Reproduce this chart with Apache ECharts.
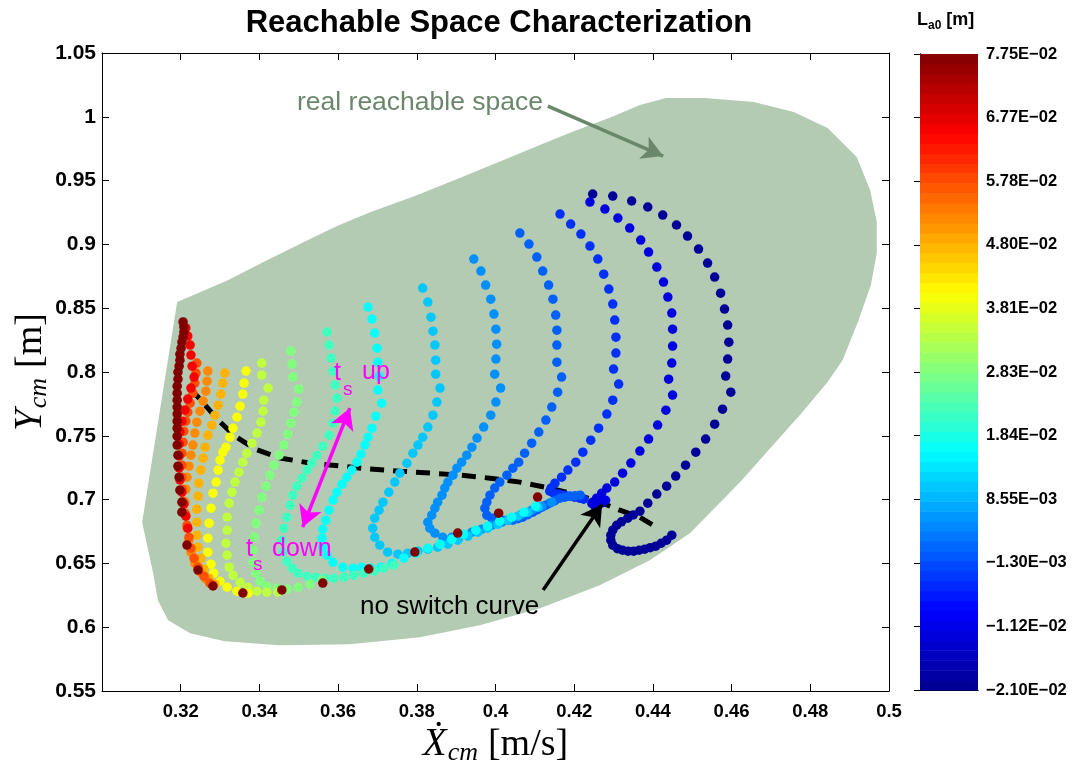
<!DOCTYPE html>
<html>
<head>
<meta charset="utf-8">
<title>Reachable Space Characterization</title>
<script src="https://cdn.jsdelivr.net/npm/echarts/dist/echarts.min.js"></script>
<style>
  html, body { margin: 0; padding: 0; background: #fff; }
  #chart { width: 1074px; height: 772px; }
</style>
</head>
<body>
<div id="chart"></div>
<script>
// ---- data: [Xdot_cm, Y_cm] per point ----
// one list per L_a0 value (left = long leg, right = short leg)
const curveT1a = [[0.3206,0.8392],[0.3208,0.8353],[0.3208,0.8313],[0.3206,0.8274],[0.3203,0.8235],[0.3201,0.8187],[0.3198,0.8140],[0.3198,0.8093],[0.3196,0.8046],[0.3193,0.7999],[0.3193,0.7944],[0.3191,0.7889],[0.3191,0.7834],[0.3191,0.7779],[0.3191,0.7725],[0.3191,0.7670],[0.3191,0.7615],[0.3191,0.7560],[0.3191,0.7497],[0.3191,0.7427],[0.3193,0.7348],[0.3193,0.7262],[0.3196,0.7176],[0.3198,0.7074],[0.3203,0.6980],[0.3203,0.6901]];
const curveT1b = [[0.3213,0.8345],[0.3218,0.8282],[0.3224,0.8211],[0.3226,0.8133],[0.3229,0.8046],[0.3234,0.7960],[0.3226,0.7874],[0.3218,0.7788],[0.3211,0.7702],[0.3203,0.7615],[0.3198,0.7529],[0.3196,0.7436],[0.3196,0.7342],[0.3196,0.7248],[0.3198,0.7154],[0.3203,0.7058],[0.3208,0.6964],[0.3213,0.6870],[0.3218,0.6776]];
const curveT2 = [[0.3241,0.8070],[0.3239,0.7992],[0.3236,0.7913],[0.3231,0.7834],[0.3224,0.7756],[0.3218,0.7685],[0.3213,0.7615],[0.3208,0.7536],[0.3206,0.7450],[0.3203,0.7364],[0.3203,0.7270],[0.3203,0.7176],[0.3203,0.7082],[0.3206,0.6988],[0.3211,0.6894],[0.3216,0.6799],[0.3221,0.6705],[0.3226,0.6619],[0.3234,0.6541],[0.3244,0.6470],[0.3259,0.6400],[0.3274,0.6345]];
const curveT3 = [[0.3269,0.8007],[0.3267,0.7928],[0.3264,0.7850],[0.3257,0.7772],[0.3249,0.7693],[0.3241,0.7607],[0.3236,0.7521],[0.3231,0.7427],[0.3226,0.7348],[0.3221,0.7262],[0.3216,0.7176],[0.3213,0.7082],[0.3211,0.6980],[0.3213,0.6878],[0.3216,0.6776],[0.3221,0.6682],[0.3226,0.6588],[0.3236,0.6503],[0.3249,0.6433],[0.3264,0.6378],[0.3282,0.6331]];
const curveT4 = [[0.3312,0.7992],[0.3307,0.7913],[0.3302,0.7827],[0.3295,0.7740],[0.3287,0.7662],[0.3279,0.7583],[0.3269,0.7505],[0.3262,0.7411],[0.3257,0.7325],[0.3251,0.7231],[0.3246,0.7129],[0.3244,0.7027],[0.3241,0.6925],[0.3241,0.6823],[0.3241,0.6721],[0.3244,0.6627],[0.3251,0.6541],[0.3259,0.6455],[0.3272,0.6384],[0.3287,0.6337]];
const curveT5 = [[0.3366,0.8007],[0.3361,0.7913],[0.3358,0.7827],[0.3351,0.7732],[0.3343,0.7646],[0.3333,0.7560],[0.3325,0.7489],[0.3315,0.7411],[0.3307,0.7372],[0.3300,0.7309],[0.3295,0.7231],[0.3290,0.7137],[0.3282,0.7050],[0.3277,0.6933],[0.3272,0.6815],[0.3269,0.6698],[0.3269,0.6588],[0.3277,0.6494],[0.3284,0.6423],[0.3300,0.6360],[0.3318,0.6313],[0.3343,0.6282],[0.3371,0.6266]];
const curveT6 = [[0.3406,0.8070],[0.3406,0.7976],[0.3422,0.7874],[0.3411,0.7779],[0.3409,0.7693],[0.3404,0.7607],[0.3394,0.7521],[0.3381,0.7442],[0.3368,0.7364],[0.3358,0.7293],[0.3348,0.7215],[0.3338,0.7137],[0.3330,0.7058],[0.3323,0.6972],[0.3318,0.6862],[0.3318,0.6760],[0.3315,0.6658],[0.3318,0.6564],[0.3323,0.6470],[0.3333,0.6407],[0.3351,0.6352],[0.3371,0.6313],[0.3394,0.6282],[0.3419,0.6274],[0.3447,0.6274]];
const curveT7 = [[0.3480,0.8164],[0.3483,0.8062],[0.3485,0.7960],[0.3500,0.7866],[0.3495,0.7764],[0.3488,0.7685],[0.3480,0.7599],[0.3472,0.7513],[0.3462,0.7427],[0.3450,0.7348],[0.3437,0.7270],[0.3427,0.7191],[0.3417,0.7105],[0.3406,0.7019],[0.3399,0.6917],[0.3391,0.6815],[0.3386,0.6705],[0.3384,0.6603],[0.3384,0.6509],[0.3391,0.6423],[0.3402,0.6360],[0.3419,0.6321],[0.3445,0.6306],[0.3470,0.6298],[0.3498,0.6313],[0.3528,0.6337],[0.3559,0.6368]];
const curveT8 = [[0.3572,0.8313],[0.3577,0.8211],[0.3582,0.8109],[0.3587,0.8007],[0.3592,0.7898],[0.3597,0.7796],[0.3592,0.7694],[0.3587,0.7599],[0.3577,0.7505],[0.3561,0.7419],[0.3546,0.7348],[0.3533,0.7286],[0.3521,0.7231],[0.3508,0.7168],[0.3495,0.7105],[0.3485,0.7035],[0.3478,0.6956],[0.3470,0.6862],[0.3462,0.6776],[0.3457,0.6682],[0.3460,0.6588],[0.3470,0.6517],[0.3483,0.6462],[0.3498,0.6423],[0.3521,0.6400],[0.3544,0.6392],[0.3566,0.6384],[0.3589,0.6384],[0.3615,0.6392],[0.3640,0.6407],[0.3665,0.6423],[0.3691,0.6439],[0.3716,0.6462],[0.3742,0.6486]];
const curveT9 = [[0.3676,0.8509],[0.3686,0.8415],[0.3693,0.8305],[0.3699,0.8187],[0.3701,0.8077],[0.3704,0.7968],[0.3701,0.7858],[0.3711,0.7756],[0.3696,0.7654],[0.3686,0.7560],[0.3676,0.7489],[0.3668,0.7427],[0.3658,0.7356],[0.3648,0.7293],[0.3635,0.7231],[0.3622,0.7176],[0.3610,0.7121],[0.3597,0.7058],[0.3587,0.6996],[0.3577,0.6917],[0.3569,0.6839],[0.3561,0.6768],[0.3559,0.6698],[0.3561,0.6627],[0.3572,0.6564],[0.3587,0.6509],[0.3612,0.6470],[0.3638,0.6462],[0.3660,0.6470],[0.3683,0.6462],[0.3709,0.6470],[0.3737,0.6501],[0.3767,0.6541],[0.3798,0.6580],[0.3828,0.6619],[0.3859,0.6651],[0.3889,0.6690],[0.3919,0.6729],[0.3950,0.6760],[0.3980,0.6792],[0.4011,0.6831],[0.4041,0.6862],[0.4072,0.6901],[0.4102,0.6948]];
const curveT10 = [[0.3815,0.8658],[0.3828,0.8548],[0.3836,0.8430],[0.3841,0.8320],[0.3846,0.8211],[0.3848,0.8093],[0.3848,0.7983],[0.3859,0.7874],[0.3851,0.7764],[0.3841,0.7662],[0.3828,0.7568],[0.3815,0.7489],[0.3803,0.7427],[0.3790,0.7364],[0.3775,0.7285],[0.3757,0.7207],[0.3744,0.7137],[0.3729,0.7058],[0.3714,0.6980],[0.3704,0.6917],[0.3693,0.6854],[0.3688,0.6776],[0.3693,0.6705],[0.3706,0.6643],[0.3726,0.6588],[0.3752,0.6572],[0.3777,0.6580],[0.3803,0.6596],[0.3828,0.6611],[0.3853,0.6627],[0.3879,0.6651],[0.3904,0.6682],[0.3930,0.6713],[0.3955,0.6745],[0.3980,0.6776],[0.4006,0.6807],[0.4031,0.6839],[0.4057,0.6870],[0.4082,0.6901],[0.4108,0.6941]];
const curveT11 = [[0.3945,0.8885],[0.3963,0.8791],[0.3975,0.8681],[0.3988,0.8571],[0.3996,0.8454],[0.4001,0.8336],[0.4003,0.8218],[0.4001,0.8101],[0.3998,0.7983],[0.4013,0.7874],[0.4001,0.7764],[0.3988,0.7662],[0.3970,0.7568],[0.3953,0.7482],[0.3940,0.7411],[0.3927,0.7348],[0.3914,0.7293],[0.3902,0.7246],[0.3892,0.7191],[0.3879,0.7137],[0.3871,0.7090],[0.3864,0.7035],[0.3853,0.6980],[0.3846,0.6933],[0.3838,0.6878],[0.3828,0.6823],[0.3833,0.6776],[0.3846,0.6737],[0.3866,0.6705],[0.3889,0.6705],[0.3914,0.6721],[0.3940,0.6745],[0.3965,0.6768],[0.3991,0.6799],[0.4016,0.6823],[0.4041,0.6854],[0.4067,0.6886],[0.4092,0.6917],[0.4118,0.6948],[0.4143,0.6980]];
const curveT12 = [[0.4062,0.9089],[0.4085,0.9003],[0.4105,0.8901],[0.4120,0.8791],[0.4135,0.8681],[0.4146,0.8571],[0.4153,0.8446],[0.4156,0.8328],[0.4156,0.8211],[0.4156,0.8077],[0.4168,0.7960],[0.4158,0.7842],[0.4143,0.7725],[0.4128,0.7623],[0.4110,0.7529],[0.4092,0.7442],[0.4074,0.7364],[0.4059,0.7293],[0.4044,0.7246],[0.4029,0.7191],[0.4011,0.7137],[0.3998,0.7090],[0.3986,0.7035],[0.3978,0.6980],[0.3973,0.6933],[0.3978,0.6878],[0.3991,0.6854],[0.4006,0.6846],[0.4019,0.6839],[0.4032,0.6839],[0.4044,0.6839],[0.4057,0.6850],[0.4069,0.6862],[0.4082,0.6882],[0.4095,0.6901],[0.4107,0.6921],[0.4118,0.6941],[0.4128,0.6956],[0.4138,0.6972],[0.4151,0.6991],[0.4164,0.7011],[0.4176,0.7019],[0.4189,0.7027],[0.4202,0.7031],[0.4215,0.7035]];
const curveT13 = [[0.4164,0.9238],[0.4191,0.9159],[0.4217,0.9081],[0.4240,0.8987],[0.4260,0.8885],[0.4275,0.8767],[0.4288,0.8650],[0.4298,0.8532],[0.4303,0.8407],[0.4306,0.8273],[0.4306,0.8148],[0.4300,0.8023],[0.4313,0.7905],[0.4298,0.7779],[0.4283,0.7670],[0.4262,0.7560],[0.4242,0.7466],[0.4222,0.7372],[0.4204,0.7293],[0.4184,0.7231],[0.4168,0.7176],[0.4151,0.7129],[0.4141,0.7090],[0.4138,0.7066],[0.4148,0.7050],[0.4161,0.7043],[0.4176,0.7035],[0.4189,0.7027],[0.4201,0.7019],[0.4214,0.7011],[0.4224,0.7003]];
const curveT14 = [[0.4240,0.9332],[0.4278,0.9277],[0.4311,0.9206],[0.4341,0.9128],[0.4369,0.9034],[0.4389,0.8940],[0.4410,0.8822],[0.4427,0.8705],[0.4438,0.8587],[0.4448,0.8462],[0.4450,0.8336],[0.4450,0.8203],[0.4448,0.8070],[0.4440,0.7944],[0.4450,0.7819],[0.4433,0.7701],[0.4412,0.7584],[0.4389,0.7474],[0.4367,0.7380],[0.4344,0.7286],[0.4323,0.7207],[0.4303,0.7137],[0.4283,0.7090],[0.4270,0.7050],[0.4257,0.7011],[0.4247,0.6980],[0.4245,0.6970],[0.4252,0.6950],[0.4262,0.6960],[0.4270,0.6975],[0.4280,0.6995],[0.4265,0.6985]];
const curveT15 = [[0.4247,0.9395],[0.4298,0.9379],[0.4346,0.9340],[0.4387,0.9293],[0.4425,0.9230],[0.4460,0.9152],[0.4488,0.9065],[0.4516,0.8963],[0.4539,0.8854],[0.4557,0.8744],[0.4572,0.8618],[0.4582,0.8493],[0.4590,0.8368],[0.4593,0.8234],[0.4590,0.8101],[0.4585,0.7968],[0.4598,0.7842],[0.4577,0.7709],[0.4557,0.7591],[0.4534,0.7474],[0.4509,0.7372],[0.4483,0.7270],[0.4458,0.7184],[0.4435,0.7105],[0.4410,0.7043],[0.4387,0.6972],[0.4367,0.6909],[0.4350,0.6880],[0.4336,0.6854],[0.4320,0.6826],[0.4308,0.6799],[0.4298,0.6760],[0.4293,0.6721],[0.4293,0.6682],[0.4298,0.6643],[0.4310,0.6615],[0.4323,0.6603],[0.4337,0.6596],[0.4351,0.6596],[0.4365,0.6603],[0.4379,0.6611],[0.4393,0.6623],[0.4407,0.6635],[0.4421,0.6658],[0.4435,0.6682],[0.4448,0.6721]];
// L_a0 [m] of each list above, same order
const laValues = [0.0775, 0.066, 0.0575, 0.052, 0.048, 0.040, 0.0344, 0.0283, 0.022, 0.0165, 0.0106, 0.0052, 0.0006, -0.0041, -0.0121, -0.020];
// dark red end points along the lower edge
const endPoints = [[0.3216,0.6644],[0.3244,0.6448],[0.3282,0.6323],[0.3358,0.6268],[0.3457,0.6292],[0.3561,0.6346],[0.3678,0.6456],[0.3795,0.6589],[0.3904,0.6738],[0.4008,0.6894],[0.4107,0.7020]];
const endPointLa = 0.0775;
// black dashed "no switch curve"
const noSwitch = [[0.3224,0.7874],[0.3262,0.7741],[0.3300,0.7608],[0.3338,0.7498],[0.3389,0.7396],[0.3452,0.7326],[0.3528,0.7287],[0.3605,0.7263],[0.3681,0.7239],[0.3757,0.7223],[0.3833,0.7208],[0.3910,0.7192],[0.3986,0.7168],[0.4062,0.7137],[0.4138,0.7090],[0.4202,0.7043],[0.4266,0.6980],[0.4316,0.6917],[0.4367,0.6862],[0.4408,0.6785]];
// outline of the real reachable space
const reachSpace = [[0.3191,0.8548],[0.3320,0.8720],[0.3409,0.8861],[0.3508,0.9010],[0.3597,0.9144],[0.3683,0.9253],[0.3795,0.9379],[0.3909,0.9520],[0.4008,0.9645],[0.4113,0.9779],[0.4194,0.9881],[0.4295,0.9998],[0.4367,1.0092],[0.4433,1.0147],[0.4532,1.0147],[0.4656,1.0116],[0.4758,1.0037],[0.4844,0.9912],[0.4918,0.9685],[0.4952,0.9426],[0.4969,0.9175],[0.4969,0.8932],[0.4954,0.8681],[0.4921,0.8391],[0.4882,0.8093],[0.4844,0.7921],[0.4773,0.7662],[0.4671,0.7309],[0.4626,0.7152],[0.4494,0.6737],[0.4392,0.6525],[0.4265,0.6329],[0.4113,0.6149],[0.3960,0.6016],[0.3808,0.5921],[0.3630,0.5867],[0.3452,0.5859],[0.3312,0.5890],[0.3224,0.5953],[0.3168,0.6055],[0.3142,0.6211],[0.3130,0.6423],[0.3102,0.6823]];
// annotation arrows [from, to]
const arrowTs = [[0.3510,0.6785],[0.3630,0.7717]];
const arrowReal = [[0.4133,1.0084],[0.4426,0.9692]];
const arrowNoSwitch = [[0.4121,0.6292],[0.4271,0.6964]];
// colour bar
const laMin = -0.021, laMax = 0.0775;
const cbLabels = ['\u22122.10E\u221202','\u22121.12E\u221202','\u22121.30E\u221203','8.55E\u221203','1.84E\u221202','2.83E\u221202','3.81E\u221202','4.80E\u221202','5.78E\u221202','6.77E\u221202','7.75E\u221202'];
const jet = ['#00008f','#0000ff','#0080ff','#00ffff','#80ff80','#ffff00','#ff8000','#ff0000','#800000'];
const cbLevels = 64;

// ---- build ----
const curves = [curveT1a, curveT1b, curveT2, curveT3, curveT4, curveT5, curveT6, curveT7, curveT8, curveT9, curveT10, curveT11, curveT12, curveT13, curveT14, curveT15];
const dots = [];
// blue curves first so the red ones end on top
for (let i = curves.length - 1; i >= 0; i--) {
  curves[i].forEach(p => dots.push([p[0], p[1], laValues[i]]));
}
endPoints.forEach(p => dots.push([p[0], p[1], endPointLa]));

const bands = [];
const cbSpan = cbLabels.length - 1;
for (let k = 0; k < cbLevels; k++) {
  bands.push([k * cbSpan / cbLevels, (k + 1) * cbSpan / cbLevels, laMin + (k + 0.5) * (laMax - laMin) / cbLevels]);
}

const sans = 'Liberation Sans, Arial, sans-serif';
const serif = "'Liberation Serif','DejaVu Serif',serif";
const tickFont = { color: '#000', fontFamily: sans, fontWeight: 'bold', fontSize: 19 };
const labelRich = {
  x: { fontFamily: serif, fontStyle: 'italic', fontSize: 39, lineHeight: 42, color: '#000' },
  s: { fontFamily: serif, fontStyle: 'italic', fontSize: 26, lineHeight: 26, verticalAlign: 'bottom', padding: [0, 10, 0, 1], color: '#000' },
  u: { fontFamily: serif, fontSize: 38, lineHeight: 42, color: '#000' }
};

function arrowSeries(pts, color, both) {
  return {
    type: 'scatter', xAxisIndex: 0, yAxisIndex: 0, data: [], silent: true, z: 6,
    markLine: {
      silent: true, animation: false, label: { show: false },
      symbolSize: [18, 21],
      lineStyle: { color: color, width: 3.5, type: 'solid' },
      emphasis: { disabled: true },
      data: [[{ coord: pts[0], symbol: both ? 'arrow' : 'none' }, { coord: pts[1], symbol: 'arrow' }]]
    }
  };
}

function note(x, y, text, size, color) {
  return { type: 'text', x: x, y: y, z: 100, silent: true,
    style: { text: text, fontFamily: sans, fontSize: size, fill: color, verticalAlign: 'middle' } };
}

const chart = echarts.init(document.getElementById('chart'));
chart.setOption({
  animation: false,
  backgroundColor: '#fff',
  title: {
    text: 'Reachable Space Characterization',
    left: 494, top: 3, textAlign: 'center',
    textStyle: { fontFamily: sans, fontWeight: 'bold', fontSize: 31, color: '#000' }
  },
  grid: [
    { left: 102, top: 53, width: 787, height: 638, containLabel: false, outerBoundsMode: 'none' },
    { left: 920, top: 54, width: 58, height: 636, containLabel: false, outerBoundsMode: 'none' }
  ],
  xAxis: [
    {
      gridIndex: 0, type: 'value', position: 'bottom', min: 0.3, max: 0.5, interval: 0.02,
      axisLine: { lineStyle: { color: '#000', width: 1 } },
      axisTick: { inside: true, length: 7, lineStyle: { color: '#000' } },
      axisLabel: Object.assign({ margin: 11, showMinLabel: false }, tickFont, { fontSize: 18.5 }),
      splitLine: { show: false },
      name: '{x|\u1E8A}{s|cm}{u|[m/s]}', nameLocation: 'middle', nameGap: 33, nameMoveOverlap: false,
      nameTextStyle: { rich: labelRich }
    },
    {
      gridIndex: 0, type: 'value', position: 'top', min: 0.3, max: 0.5, interval: 0.02,
      axisLine: { lineStyle: { color: '#000', width: 1 } },
      axisTick: { inside: true, length: 7, lineStyle: { color: '#000' } },
      axisLabel: { show: false }, splitLine: { show: false }
    },
    {
      gridIndex: 1, type: 'value', position: 'bottom', min: 0, max: 1,
      axisLine: { lineStyle: { color: '#000', width: 1 } },
      axisTick: { show: false }, axisLabel: { show: false }, splitLine: { show: false }
    },
    {
      gridIndex: 1, type: 'value', position: 'top', min: 0, max: 1,
      axisLine: { lineStyle: { color: '#000', width: 1 } },
      axisTick: { show: false }, axisLabel: { show: false }, splitLine: { show: false }
    }
  ],
  yAxis: [
    {
      gridIndex: 0, type: 'value', position: 'left', min: 0.55, max: 1.05, interval: 0.05,
      axisLine: { lineStyle: { color: '#000', width: 1 } },
      axisTick: { inside: true, length: 7, lineStyle: { color: '#000' } },
      axisLabel: Object.assign({ margin: 6 }, tickFont, { fontSize: 21 }),
      splitLine: { show: false },
      name: '{x|Y}{s|cm}{u|[m]}', nameLocation: 'middle', nameRotate: 90, nameGap: 50, nameMoveOverlap: false,
      nameTextStyle: { rich: labelRich }
    },
    {
      gridIndex: 0, type: 'value', position: 'right', min: 0.55, max: 1.05, interval: 0.05,
      axisLine: { lineStyle: { color: '#000', width: 1 } },
      axisTick: { inside: true, length: 7, lineStyle: { color: '#000' } },
      axisLabel: { show: false }, splitLine: { show: false }
    },
    {
      gridIndex: 1, type: 'value', position: 'left', min: 0, max: cbSpan, interval: 1,
      axisLine: { lineStyle: { color: '#000', width: 1 } },
      axisTick: { inside: true, length: 6, lineStyle: { color: '#000' } },
      axisLabel: { show: false }, splitLine: { show: false }
    },
    {
      gridIndex: 1, type: 'value', position: 'right', min: 0, max: cbSpan, interval: 1,
      axisLine: { lineStyle: { color: '#000', width: 1 } },
      axisTick: { inside: true, length: 6, lineStyle: { color: '#000' } },
      axisLabel: Object.assign({}, tickFont, { fontSize: 16.5, margin: 8, formatter: v => cbLabels[Math.round(v)] }),
      splitLine: { show: false }
    }
  ],
  visualMap: {
    type: 'continuous', show: false, min: laMin, max: laMax, dimension: 2,
    seriesIndex: [2, 6], inRange: { color: jet }
  },
  series: [
    {
      type: 'custom', xAxisIndex: 0, yAxisIndex: 0, silent: true, z: 1,
      data: [[0.4, 0.8]],
      renderItem: (params, api) => ({
        type: 'polygon',
        shape: { points: reachSpace.map(p => api.coord(p)) },
        style: { fill: '#b3cbb2', stroke: null }
      })
    },
    {
      type: 'line', xAxisIndex: 0, yAxisIndex: 0, data: noSwitch, showSymbol: false, symbol: 'none',
      silent: true, z: 2,
      lineStyle: { color: '#000', width: 5, type: [14, 9] }
    },
    {
      type: 'scatter', xAxisIndex: 0, yAxisIndex: 0, data: dots, symbolSize: 9.5, silent: true, z: 3,
      itemStyle: { opacity: 1 }
    },
    arrowSeries(arrowTs, '#ff00ff', true),
    arrowSeries(arrowReal, '#6b876b', false),
    arrowSeries(arrowNoSwitch, '#000', false),
    {
      type: 'custom', xAxisIndex: 2, yAxisIndex: 2, silent: true, z: 2,
      data: bands,
      renderItem: (params, api) => {
        const a = api.coord([0, api.value(0)]);
        const b = api.coord([1, api.value(1)]);
        return {
          type: 'rect',
          shape: { x: a[0], y: b[1], width: b[0] - a[0], height: a[1] - b[1] + 0.6 },
          style: { fill: api.visual('color') }
        };
      }
    }
  ],
  graphic: [
    { type: 'text', left: 917, top: 11, z: 100, style: { text: '{a|L}{b|a0}{a| [m]}', rich: {
      a: { fontFamily: sans, fontWeight: 'bold', fontSize: 18, lineHeight: 24, fill: '#000' },
      b: { fontFamily: sans, fontWeight: 'bold', fontSize: 12, lineHeight: 14, verticalAlign: 'bottom', fill: '#000' }
    } } },
    note(297, 103, 'real reachable space', 26.5, '#6b876b'),
    note(360, 607, 'no switch curve', 26, '#000'),
    note(334, 373, 't', 25, '#ff00ff'),
    note(343, 390, 's', 19, '#ff00ff'),
    note(362, 372, 'up', 25, '#ff00ff'),
    note(246, 549, 't', 25, '#ff00ff'),
    note(253, 565, 's', 19, '#ff00ff'),
    note(272, 549, 'down', 25, '#ff00ff')
  ]
});
</script>
</body>
</html>
